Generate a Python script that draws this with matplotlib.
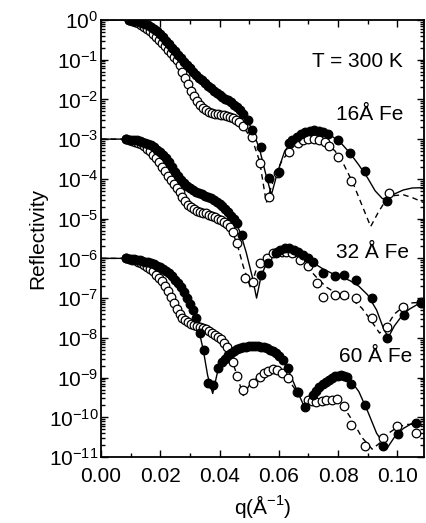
import numpy as np
import matplotlib.pyplot as plt
from matplotlib.ticker import LogLocator, MultipleLocator, NullFormatter

plt.rcParams['font.family'] = ['Liberation Sans', 'DejaVu Sans']
plt.rcParams['mathtext.fontset'] = 'custom'
plt.rcParams['mathtext.rm'] = 'Liberation Sans'
plt.rcParams['axes.unicode_minus'] = False

# ---- data: q (1/A) and log10(reflectivity) ----
# 16 A Fe (offset 1)
fe16_fill_q = [0.0095, 0.011, 0.012, 0.013, 0.014, 0.015, 0.016, 0.017, 0.018, 0.019, 0.020,
               0.021, 0.022, 0.023, 0.024, 0.025, 0.026, 0.027, 0.028, 0.029, 0.030, 0.031,
               0.032, 0.033, 0.034, 0.035, 0.036, 0.037, 0.038, 0.039, 0.040, 0.041, 0.042,
               0.043, 0.044, 0.045, 0.046, 0.047, 0.048, 0.0495, 0.051, 0.054, 0.0566, 0.060,
               0.0633, 0.0645, 0.066, 0.0675, 0.069, 0.0705, 0.072, 0.0735, 0.075, 0.0765,
               0.080, 0.084, 0.089, 0.0966]
fe16_fill_r = [0.0, -0.02, -0.04, -0.06, -0.08, -0.10, -0.13, -0.17, -0.22, -0.28, -0.35,
               -0.43, -0.52, -0.61, -0.70, -0.79, -0.88, -0.97, -1.06, -1.14, -1.22, -1.30,
               -1.38, -1.45, -1.52, -1.59, -1.66, -1.72, -1.78, -1.84, -1.89, -1.94, -1.98,
               -2.02, -2.07, -2.13, -2.20, -2.27, -2.36, -2.52, -2.77, -3.20, -3.98, -3.83,
               -3.10, -3.02, -2.95, -2.88, -2.83, -2.80, -2.78, -2.79, -2.82, -2.86,
               -3.02, -3.35, -3.80, -4.56]
fe16_open_q = [0.0095, 0.0105, 0.0115, 0.0125, 0.0135, 0.0145, 0.0155, 0.0165, 0.0175, 0.0185,
               0.0195, 0.0205, 0.0215, 0.0225, 0.0235, 0.0245, 0.0255, 0.0265, 0.0275, 0.0285,
               0.0295, 0.0305, 0.0315, 0.0325, 0.0335, 0.0345, 0.0355, 0.0365, 0.0375, 0.0385,
               0.0395, 0.0405, 0.0415, 0.0425, 0.0435, 0.0445, 0.0455, 0.0465, 0.048, 0.0508,
               0.0535, 0.0566, 0.0596, 0.0636, 0.0664, 0.068, 0.070, 0.072, 0.0737, 0.0755,
               0.077, 0.080, 0.0845, 0.0973]
fe16_open_r = [0.0, -0.03, -0.06, -0.09, -0.13, -0.18, -0.23, -0.29, -0.35, -0.42,
               -0.50, -0.58, -0.66, -0.75, -0.84, -0.93, -1.02, -1.14, -1.30, -1.46,
               -1.62, -1.78, -1.92, -2.04, -2.14, -2.22, -2.28, -2.32, -2.35, -2.37,
               -2.38, -2.39, -2.40, -2.42, -2.44, -2.47, -2.52, -2.58, -2.68, -2.95,
               -3.60, -4.46, -3.85, -3.32, -3.10, -3.03, -3.00, -3.00, -3.02, -3.08,
               -3.17, -3.45, -4.05, -4.36]
fe16_fit_q = [0.0, 0.0095, 0.012, 0.015, 0.018, 0.021, 0.024, 0.027, 0.030, 0.033, 0.036, 0.039,
              0.042, 0.045, 0.048, 0.051, 0.0535, 0.0555, 0.0575, 0.0595, 0.062, 0.065, 0.068,
              0.0715, 0.075, 0.078, 0.081, 0.084, 0.087, 0.090, 0.0925, 0.095, 0.097, 0.099,
              0.102, 0.105, 0.109]
fe16_fit_r = [0.0, 0.0, -0.04, -0.10, -0.22, -0.43, -0.70, -0.97, -1.22, -1.45, -1.66, -1.84,
              -1.98, -2.13, -2.36, -2.75, -3.25, -3.85, -4.40, -3.85, -3.30, -3.00, -2.85,
              -2.78, -2.82, -2.93, -3.10, -3.35, -3.65, -3.98, -4.30, -4.50, -4.47, -4.38,
              -4.28, -4.23, -4.22]
fe16_dash_q = [0.0, 0.0095, 0.0125, 0.0155, 0.0185, 0.0215, 0.0245, 0.0265, 0.0285, 0.0305,
               0.0325, 0.0345, 0.0365, 0.0395, 0.0425, 0.0455, 0.048, 0.051, 0.0535, 0.0558,
               0.0585, 0.061, 0.064, 0.067, 0.070, 0.073, 0.076, 0.079, 0.082, 0.085, 0.088,
               0.091, 0.0935, 0.096, 0.099, 0.102, 0.105, 0.109]
fe16_dash_r = [0.0, 0.0, -0.09, -0.23, -0.42, -0.66, -0.93, -1.14, -1.46, -1.78,
               -2.04, -2.22, -2.32, -2.38, -2.42, -2.52, -2.70, -3.00, -3.55, -4.60,
               -3.95, -3.55, -3.25, -3.07, -3.00, -3.01, -3.10, -3.30, -3.65, -4.10, -4.65,
               -5.20, -4.85, -4.55, -4.42, -4.40, -4.47, -4.60]

# 32 A Fe (offset 1e-3)
fe32_fill_q = [0.0085, 0.010, 0.011, 0.012, 0.013, 0.014, 0.015, 0.016, 0.017, 0.018, 0.019,
               0.020, 0.021, 0.022, 0.023, 0.024, 0.025, 0.026, 0.027, 0.028, 0.029, 0.030,
               0.031, 0.032, 0.033, 0.034, 0.035, 0.036, 0.037, 0.038, 0.039, 0.040, 0.041,
               0.042, 0.043, 0.044, 0.045, 0.046, 0.0475, 0.054, 0.0563, 0.059, 0.0605, 0.062,
               0.0635, 0.065, 0.0665, 0.068, 0.0697, 0.0714, 0.0748, 0.0788, 0.082, 0.086,
               0.0916, 0.0966, 0.1024, 0.108]
fe32_fill_r = [-3.0, -3.01, -3.02, -3.03, -3.05, -3.07, -3.09, -3.12, -3.16, -3.21, -3.27,
               -3.33, -3.40, -3.48, -3.58, -3.70, -3.82, -3.92, -4.02, -4.10, -4.17, -4.23,
               -4.28, -4.32, -4.36, -4.39, -4.42, -4.45, -4.49, -4.53, -4.57, -4.62, -4.68,
               -4.76, -4.84, -4.93, -5.02, -5.12, -5.42, -6.42, -6.12, -5.87, -5.80, -5.75,
               -5.75, -5.78, -5.83, -5.92, -6.00, -6.10, -6.37, -6.45, -6.42, -6.55,
               -7.00, -8.00, -7.43, -7.13]
fe32_open_q = [0.0085, 0.0095, 0.0105, 0.0115, 0.0125, 0.0135, 0.0145, 0.0155, 0.0165, 0.0175,
               0.0185, 0.0195, 0.0205, 0.0215, 0.0225, 0.0235, 0.0245, 0.0255, 0.0265, 0.0275,
               0.0285, 0.0295, 0.0305, 0.0315, 0.0325, 0.0335, 0.0345, 0.0355, 0.0365, 0.0375,
               0.0385, 0.0395, 0.0405, 0.0415, 0.0425, 0.0435, 0.0445, 0.0458, 0.0485, 0.0513,
               0.0535, 0.056, 0.058, 0.0595, 0.061, 0.0625, 0.0643, 0.067, 0.0697, 0.073,
               0.0748, 0.0788, 0.082, 0.086, 0.0916, 0.0966, 0.102, 0.108]
fe32_open_r = [-3.0, -3.02, -3.04, -3.07, -3.10, -3.13, -3.18, -3.24, -3.31, -3.39,
               -3.48, -3.58, -3.69, -3.80, -3.92, -4.03, -4.13, -4.23, -4.33, -4.45,
               -4.56, -4.65, -4.72, -4.77, -4.80, -4.83, -4.85, -4.87, -4.90, -4.93,
               -4.96, -5.00, -5.04, -5.09, -5.14, -5.22, -5.34, -5.62, -6.50, -6.60,
               -6.12, -6.00, -5.87, -5.85, -5.84, -5.85, -5.87, -6.05, -6.20, -6.63,
               -6.98, -6.93, -6.93, -7.00, -7.50, -7.73, -7.23, -7.10]
fe32_fit_q = [0.0, 0.0085, 0.012, 0.015, 0.018, 0.021, 0.024, 0.027, 0.030, 0.033, 0.036, 0.039,
              0.042, 0.045, 0.047, 0.049, 0.051, 0.0525, 0.054, 0.056, 0.059, 0.0625, 0.066,
              0.069, 0.072, 0.075, 0.078, 0.081, 0.084, 0.087, 0.090, 0.093, 0.0955, 0.097,
              0.099, 0.1015, 0.104, 0.107, 0.109]
fe32_fit_r = [-3.0, -3.0, -3.03, -3.09, -3.21, -3.40, -3.70, -4.02, -4.23, -4.36, -4.45, -4.57,
              -4.76, -5.02, -5.35, -5.85, -6.45, -7.00, -6.45, -6.10, -5.85, -5.74, -5.80,
              -5.96, -6.13, -6.27, -6.38, -6.46, -6.56, -6.70, -6.92, -7.30, -7.80, -7.98,
              -7.70, -7.45, -7.28, -7.15, -7.10]
fe32_dash_q = [0.0, 0.0085, 0.0115, 0.0145, 0.0175, 0.0205, 0.0235, 0.0265, 0.0295, 0.0325,
               0.0355, 0.0385, 0.0415, 0.044, 0.046, 0.048, 0.0505, 0.0525, 0.055, 0.058, 0.061,
               0.064, 0.067, 0.070, 0.073, 0.076, 0.079, 0.082, 0.085, 0.088, 0.091, 0.094,
               0.0965, 0.099, 0.102, 0.105, 0.109]
fe32_dash_r = [-3.0, -3.0, -3.07, -3.18, -3.39, -3.69, -4.03, -4.33, -4.65, -4.80,
               -4.87, -4.96, -5.09, -5.28, -5.65, -6.20, -6.75, -6.25, -6.02, -5.88, -5.84,
               -5.90, -6.04, -6.25, -6.50, -6.72, -6.86, -6.95, -7.05, -7.25, -7.55, -7.88,
               -7.70, -7.40, -7.22, -7.12, -7.10]

# 60 A Fe (offset 1e-6)
fe60_fill_q = [0.0085, 0.010, 0.011, 0.012, 0.013, 0.014, 0.015, 0.016, 0.017, 0.018, 0.019,
               0.020, 0.021, 0.022, 0.023, 0.024, 0.025, 0.026, 0.027, 0.028, 0.029, 0.030,
               0.031, 0.032, 0.0333, 0.0347, 0.036, 0.0377, 0.0395, 0.041, 0.042, 0.043, 0.044,
               0.045, 0.046, 0.047, 0.048, 0.049, 0.050, 0.051, 0.052, 0.053, 0.054, 0.055,
               0.056, 0.057, 0.058, 0.059, 0.060, 0.0614, 0.063, 0.0664, 0.069, 0.0715,
               0.0727, 0.0737, 0.075, 0.076, 0.077, 0.078, 0.079, 0.080, 0.081, 0.082, 0.083,
               0.0845, 0.0892, 0.095, 0.1003, 0.1064]
fe60_fill_r = [-6.0, -6.01, -6.02, -6.03, -6.04, -6.06, -6.08, -6.10, -6.12, -6.15, -6.18,
               -6.22, -6.26, -6.31, -6.38, -6.45, -6.54, -6.63, -6.72, -6.85, -7.00, -7.15,
               -7.30, -7.50, -7.88, -8.31, -9.14, -9.19, -8.77, -8.61, -8.52, -8.44, -8.38,
               -8.33, -8.29, -8.26, -8.24, -8.22, -8.21, -8.20, -8.20, -8.21, -8.22, -8.24,
               -8.26, -8.30, -8.34, -8.39, -8.46, -8.56, -8.77, -9.37, -9.75, -9.45,
               -9.33, -9.24, -9.15, -9.10, -9.06, -9.01, -8.97, -8.95, -8.94, -8.95, -8.98,
               -9.17, -9.70, -10.73, -10.43, -10.15]
fe60_open_q = [0.0085, 0.0095, 0.0105, 0.0115, 0.0125, 0.0135, 0.0145, 0.0155, 0.0165, 0.0175,
               0.0185, 0.0195, 0.0205, 0.0215, 0.0225, 0.0235, 0.0245, 0.0255, 0.0265, 0.0275,
               0.0285, 0.0295, 0.0305, 0.0315, 0.0325, 0.0335, 0.0345, 0.0355, 0.0365, 0.0375,
               0.0385, 0.0395, 0.0405, 0.0415, 0.0424, 0.0445, 0.046, 0.0478, 0.0512, 0.0535,
               0.055, 0.0565, 0.058, 0.0595, 0.061, 0.063, 0.066, 0.0697, 0.0712, 0.0727,
               0.0745, 0.076, 0.0778, 0.0795, 0.082, 0.0845, 0.0892, 0.095, 0.100, 0.1064]
fe60_open_r = [-6.0, -6.01, -6.03, -6.05, -6.08, -6.12, -6.16, -6.21, -6.27, -6.33,
               -6.41, -6.49, -6.58, -6.69, -6.82, -6.97, -7.12, -7.27, -7.40, -7.50,
               -7.56, -7.61, -7.65, -7.68, -7.71, -7.73, -7.75, -7.78, -7.82, -7.87,
               -7.93, -7.99, -8.04, -8.12, -8.24, -8.61, -8.97, -9.32, -9.14, -8.99,
               -8.89, -8.83, -8.79, -8.82, -8.89, -9.02, -9.37, -9.57, -9.60, -9.62,
               -9.60, -9.57, -9.56, -9.55, -9.72, -10.18, -10.73, -10.53, -10.22, -10.40]
fe60_fit_q = [0.0, 0.0085, 0.012, 0.015, 0.018, 0.021, 0.024, 0.027, 0.029, 0.031, 0.033,
              0.0345, 0.036, 0.0377, 0.0395, 0.042, 0.045, 0.048, 0.051, 0.054, 0.057, 0.060,
              0.063, 0.066, 0.069, 0.0715, 0.074, 0.077, 0.080, 0.082, 0.084, 0.087, 0.090,
              0.093, 0.0965, 0.099, 0.102, 0.105, 0.109]
fe60_fit_r = [-6.0, -6.0, -6.03, -6.08, -6.15, -6.26, -6.45, -6.72, -7.00, -7.30, -7.80,
              -8.30, -8.95, -9.40, -8.80, -8.50, -8.33, -8.24, -8.20, -8.22, -8.30, -8.46,
              -8.77, -9.30, -9.80, -9.45, -9.22, -9.06, -8.95, -8.94, -9.05, -9.35, -9.85,
              -10.40, -10.78, -10.50, -10.28, -10.15, -10.10]
fe60_dash_q = [0.0, 0.0085, 0.0115, 0.0145, 0.0175, 0.0205, 0.0235, 0.0265, 0.0295, 0.0325,
               0.0355, 0.0385, 0.0415, 0.0435, 0.0455, 0.048, 0.050, 0.053, 0.0555, 0.058,
               0.061, 0.063, 0.066, 0.069, 0.0727, 0.076, 0.0795, 0.082, 0.085, 0.088, 0.0915,
               0.094, 0.097, 0.100, 0.103, 0.106, 0.109]
fe60_dash_r = [-6.0, -6.0, -6.05, -6.16, -6.33, -6.58, -6.97, -7.40, -7.61, -7.71,
               -7.78, -7.93, -8.12, -8.40, -8.85, -9.45, -9.20, -8.98, -8.86, -8.80,
               -8.88, -9.02, -9.35, -9.55, -9.60, -9.58, -9.58, -9.75, -10.10, -10.50, -10.80,
               -10.65, -10.40, -10.25, -10.18, -10.17, -10.20]

sets = [
    (fe16_fill_q, fe16_fill_r, fe16_open_q, fe16_open_r, fe16_fit_q, fe16_fit_r, fe16_dash_q, fe16_dash_r),
    (fe32_fill_q, fe32_fill_r, fe32_open_q, fe32_open_r, fe32_fit_q, fe32_fit_r, fe32_dash_q, fe32_dash_r),
    (fe60_fill_q, fe60_fill_r, fe60_open_q, fe60_open_r, fe60_fit_q, fe60_fit_r, fe60_dash_q, fe60_dash_r),
]

fig = plt.figure(figsize=(4.27, 5.23), dpi=100)
ax = fig.add_axes([0.2365, 0.126, 0.7565, 0.836])

for fq, fr, oq, orr, sq, sr, dq, dr in sets:
    ax.plot(sq, 10.0 ** np.array(sr), color='black', lw=1.0, zorder=2)
    ax.plot(dq, 10.0 ** np.array(dr), color='black', lw=1.0, ls=(0, (4, 3)), zorder=2)
    ax.plot(oq, 10.0 ** np.array(orr), ls='none', marker='o', ms=6.2, mfc='white',
            mec='black', mew=0.9, zorder=3)
    ax.plot(fq, 10.0 ** np.array(fr), ls='none', marker='o', ms=6.2, mfc='black',
            mec='black', mew=0.9, zorder=4)

ax.set_yscale('log')
ax.set_xlim(0, 0.109)
ax.set_ylim(1e-11, 1)
ax.xaxis.set_major_locator(MultipleLocator(0.02))
ax.xaxis.set_minor_locator(MultipleLocator(0.01))
ax.xaxis.set_major_formatter(plt.FuncFormatter(lambda v, p: f'{v:.2f}'))
ax.yaxis.set_major_locator(LogLocator(base=10, numticks=20))
ax.yaxis.set_minor_locator(LogLocator(base=10, subs=np.arange(2, 10), numticks=20))
ax.yaxis.set_minor_formatter(NullFormatter())

ax.tick_params(which='both', direction='in', top=True, right=True, labelsize=15, width=1.0)
ax.tick_params(which='major', length=5)
ax.tick_params(which='minor', length=3)
ax.tick_params(axis='y', which='major', pad=2)
ax.tick_params(axis='x', which='major', pad=7)
for s in ax.spines.values():
    s.set_linewidth(1.3)

ax.set_ylabel('Reflectivity', fontsize=15, labelpad=1)
ax.set_xlabel(r'q(Å$^{-1}$)', fontsize=15, labelpad=5)

ax.text(0.935, 0.904, 'T = 300 K', fontsize=15, ha='right', va='center', transform=ax.transAxes)
ax.text(0.935, 0.783, '16Å Fe', fontsize=15, ha='right', va='center', transform=ax.transAxes)
ax.text(0.952, 0.467, '32 Å Fe', fontsize=15, ha='right', va='center', transform=ax.transAxes)
ax.text(0.964, 0.229, '60 Å Fe', fontsize=15, ha='right', va='center', transform=ax.transAxes)

fig.savefig('out.png', dpi=100)
